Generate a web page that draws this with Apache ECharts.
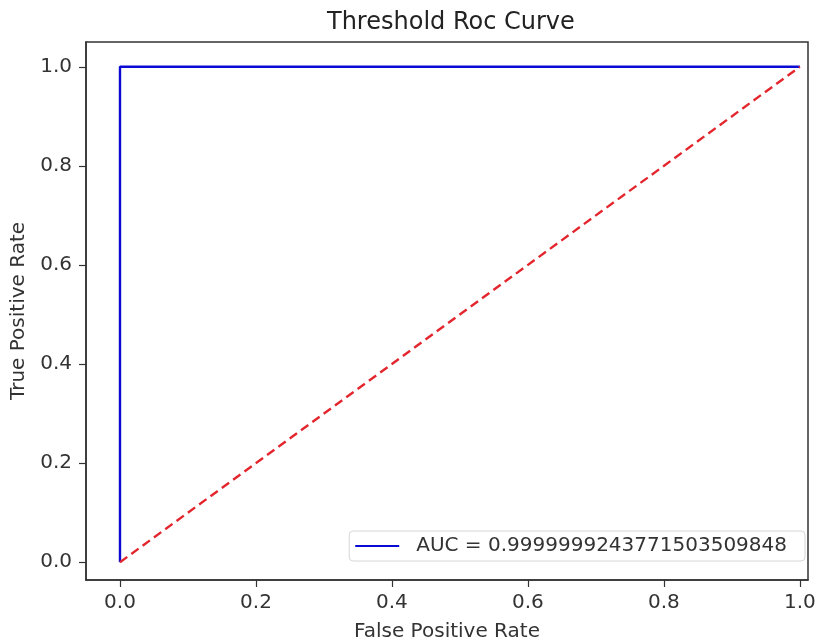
<!DOCTYPE html>
<html>
<head>
<meta charset="utf-8">
<script src="https://cdn.jsdelivr.net/npm/echarts@6/dist/echarts.min.js"></script>
<style>html,body{margin:0;padding:0;background:#fff;}#c{width:817px;height:641px;}</style>
</head>
<body>
<div id="c"></div>
<script>
var rocFpr = [0, 0, 1];
var rocTpr = [0, 1, 1];
var diagX = [0, 1];
var diagY = [0, 1];
var tickValues = [0, 0.2, 0.4, 0.6, 0.8, 1.0];
var legendLabel = 'AUC = 0.9999999243771503509848';

var FONT = 'DejaVu Sans';
var chart = echarts.init(document.getElementById('c'));
chart.setOption({
  backgroundColor: '#fff',
  animation: false,
  title: {
    text: 'Threshold Roc Curve', left: 322, top: 6,
    textStyle: { fontFamily: FONT, fontSize: 24, fontWeight: 'normal', color: '#222' }
  },
  legend: {
    data: [{ name: legendLabel }],
    right: 12, bottom: 80,
    itemWidth: 44, itemHeight: 2, icon: 'rect', itemGap: 10,
    padding: [5, 18, 5, 6],
    borderColor: '#d6d6d6', borderWidth: 1, borderRadius: 4,
    backgroundColor: 'rgba(255,255,255,0.9)',
    textStyle: { fontFamily: FONT, fontSize: 20, color: '#333', padding: [0, 0, 0, 12] }
  },
  grid: { left: 86, right: 9, top: 42, bottom: 61, outerBoundsMode: 'none', containLabel: false,
    show: true, borderColor: '#333', borderWidth: 1.5 },
  xAxis: {
    type: 'value', min: -0.05, max: 1.012,
    name: 'False Positive Rate', nameLocation: 'middle', nameGap: 42,
    nameTextStyle: { fontFamily: FONT, fontSize: 20, color: '#333' },
    axisLine: { show: true, onZero: false, lineStyle: { color: '#333', width: 1.5 } },
    axisTick: { show: true, length: 7, customValues: tickValues, lineStyle: { color: '#333', width: 1.2 } },
    axisLabel: { customValues: tickValues, fontFamily: FONT, fontSize: 20, color: '#333', margin: 13,
      formatter: function (v) { return v.toFixed(1); } },
    splitLine: { show: false }
  },
  yAxis: {
    type: 'value', min: -0.036, max: 1.05,
    name: 'True Positive Rate', nameLocation: 'middle', nameGap: 57,
    nameTextStyle: { fontFamily: FONT, fontSize: 20, color: '#333' },
    axisLine: { show: true, onZero: false, lineStyle: { color: '#333', width: 1.5 } },
    axisTick: { show: true, length: 7, customValues: tickValues, lineStyle: { color: '#333', width: 1.2 } },
    axisLabel: { customValues: tickValues, fontFamily: FONT, fontSize: 20, color: '#333', margin: 14,
      formatter: function (v) { return v.toFixed(1); } },
    splitLine: { show: false }
  },
  series: [
    {
      name: legendLabel, type: 'line', showSymbol: false, symbol: 'none',
      data: rocFpr.map(function (x, i) { return [x, rocTpr[i]]; }),
      lineStyle: { color: '#0a0ad2', width: 2.4 }, itemStyle: { color: '#0a0ad2' }, z: 3
    },
    {
      name: 'diag', type: 'line', showSymbol: false, symbol: 'none',
      data: diagX.map(function (x, i) { return [x, diagY[i]]; }),
      lineStyle: { color: '#e3262e', width: 2.4, type: [9, 5] }, itemStyle: { color: '#e3262e' }, z: 4
    }
  ]
});
</script>
</body>
</html>
